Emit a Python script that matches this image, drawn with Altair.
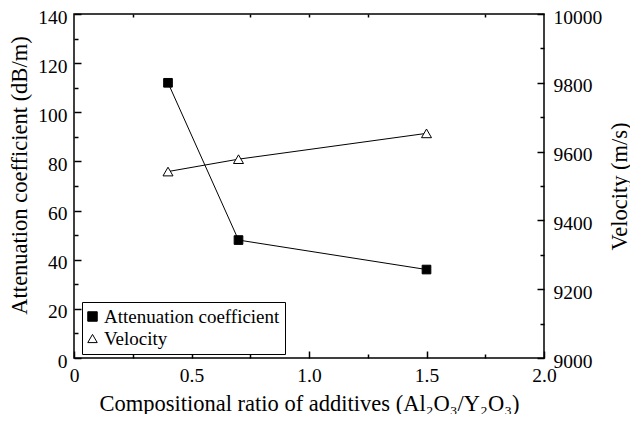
import altair as alt
import pandas as pd

# ---- data ----
ratio = [0.4, 0.7, 1.5]
attenuation = [112, 48, 36]
velocity = [9542, 9578, 9653]
series_names = ["Attenuation coefficient", "Velocity"]

x_major = [0, 0.5, 1.0, 1.5, 2.0]
x_minor = [0.25, 0.75, 1.25, 1.75]
x_top = [0.25, 0.75, 1.0, 1.25, 1.75]
att_major = [0, 20, 40, 60, 80, 100, 120, 140]
att_minor = [10, 30, 50, 70, 90, 110, 130]
vel_major = [9000, 9200, 9400, 9600, 9800, 10000]
vel_minor = [9100, 9300, 9500, 9700, 9900]

att_df = pd.DataFrame({"ratio": ratio, "value": attenuation, "series": series_names[0]})
vel_df = pd.DataFrame({"ratio": ratio, "value": velocity, "series": series_names[1]})

FONT = "Liberation Serif"
W, H = 470, 344
LBL = dict(labelFont=FONT, labelFontSize=19.5, labelColor="black",
           titleFont=FONT, titleFontSize=22.5, titleColor="black", titleFontWeight="normal",
           tickColor="black", tickWidth=1.5, grid=False, labelFlush=False, labelOverlap=False)

x_scale = alt.Scale(domain=[0, 2], nice=False, zero=False)
att_scale = alt.Scale(domain=[0, 140], nice=False)
vel_scale = alt.Scale(domain=[9000, 10000], nice=False, zero=False)
shape_scale = alt.Scale(domain=series_names, range=["square", "triangle-up"])
fill_scale = alt.Scale(domain=series_names, range=["black", "white"])
stroke_scale = alt.Scale(domain=series_names, range=["black", "black"])

legend = alt.Legend(
    orient="none", legendX=8, legendY=288, title=None,
    strokeColor="black", fillColor="white", padding=5,
    labelFont=FONT, labelFontSize=19, labelColor="black",
    labelOffset=2, labelLimit=400,
    symbolSize=90, symbolStrokeWidth=1, symbolOffset={"expr": "-4"},
    rowPadding=2,
)

x_main_axis = alt.Axis(
    orient="bottom", values=x_major,
    labelExpr="datum.value == 0 ? '0' : format(datum.value, '.1f')",
    tickSize={"expr": "-7"}, labelPadding=15, domain=False,
    title="Compositional ratio of additives (Al\u2082O\u2083/Y\u2082O\u2083)",
    titleX=W / 2, titleY=52, titleAlign="center", titleBaseline="alphabetic", **LBL,
)
x_minor_axis = alt.Axis(orient="bottom", values=x_minor, tickSize={"expr": "-4"},
                        labels=False, domain=False, title=None, **LBL)
x_top_axis = alt.Axis(orient="top", values=x_top, tickSize={"expr": "-3"},
                      labels=False, domain=False, title=None, **LBL)

att_main_axis = alt.Axis(
    orient="left", values=att_major, format="d", labelOffset=3,
    tickSize={"expr": "-7"}, labelPadding=14, domain=False,
    title="Attenuation coefficient (dB/m)",
    titleX=-48, titleY=161, titleAngle=270, titleAlign="center", titleBaseline="alphabetic", **LBL,
)
att_minor_axis = alt.Axis(orient="left", values=att_minor, tickSize={"expr": "-4"},
                          labels=False, domain=False, title=None, **LBL)
vel_main_axis = alt.Axis(
    orient="right", values=vel_major, format="d", labelOffset=3,
    tickSize={"expr": "-7"}, labelPadding=16, domain=False,
    title="Velocity (m/s)",
    titleX=82, titleY=H / 2, titleAngle=270, titleAlign="center", titleBaseline="alphabetic", **LBL,
)
vel_minor_axis = alt.Axis(orient="right", values=vel_minor, tickSize={"expr": "-4"},
                          labels=False, domain=False, title=None, **LBL)

att_line = alt.Chart(att_df).mark_line(color="black", strokeWidth=1).encode(
    x=alt.X("ratio:Q", scale=x_scale, axis=x_main_axis),
    y=alt.Y("value:Q", scale=att_scale, axis=att_main_axis),
)
att_pts = alt.Chart(att_df).mark_point(filled=True, size=75, strokeWidth=1, opacity=1).encode(
    x=alt.X("ratio:Q", scale=x_scale, axis=x_minor_axis),
    y=alt.Y("value:Q", scale=att_scale, axis=att_minor_axis),
    shape=alt.Shape("series:N", scale=shape_scale, legend=legend),
    fill=alt.Fill("series:N", scale=fill_scale, legend=legend),
    stroke=alt.Stroke("series:N", scale=stroke_scale, legend=legend),
)
vel_line = alt.Chart(vel_df).mark_line(color="black", strokeWidth=1).encode(
    x=alt.X("ratio:Q", scale=x_scale, axis=x_top_axis),
    y=alt.Y("value:Q", scale=vel_scale, axis=vel_main_axis),
)
vel_pts = alt.Chart(vel_df).mark_point(filled=True, size=100, strokeWidth=1, opacity=1).encode(
    x=alt.X("ratio:Q", scale=x_scale, axis=None),
    y=alt.Y("value:Q", scale=vel_scale, axis=vel_minor_axis),
    shape=alt.Shape("series:N", scale=shape_scale, legend=legend),
    fill=alt.Fill("series:N", scale=fill_scale, legend=legend),
    stroke=alt.Stroke("series:N", scale=stroke_scale, legend=legend),
)

chart = (
    alt.layer(att_line, vel_line, att_pts, vel_pts)
    .resolve_scale(y="independent")
    .resolve_axis(x="independent")
    .properties(width=W, height=H, autosize="none",
                padding={"left": 66, "top": 6, "right": 86, "bottom": 56},
                background="white")
    .configure_axis(**LBL)
    .configure_view(stroke="black", strokeWidth=1.5)
)

chart.save("out.html", embed_options={"renderer": "svg", "actions": False})
